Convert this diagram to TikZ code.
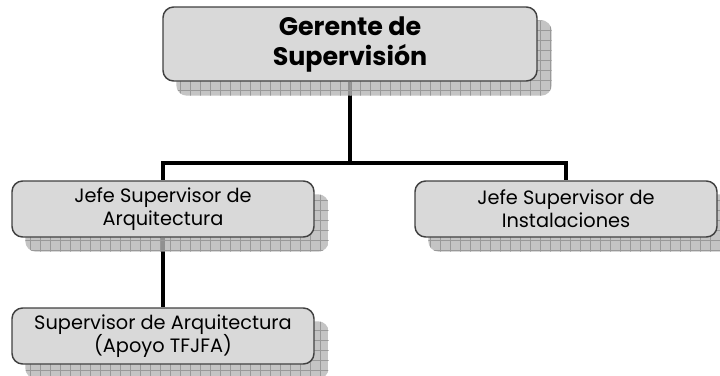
\documentclass[tikz,border=0pt]{standalone}
\usepackage{fontspec}
\setmainfont{Poppins}
\usetikzlibrary{positioning, backgrounds}

\newcommand{\shadowof}[1]{
    \begin{scope}
        \path[clip, rounded corners=8]
            ([shift={(14,14)}]#1.north west) rectangle ([shift={(14,14)}]#1.south east);
        \fill[gray!58, opacity=0.8]
            ([shift={(14,14)}]#1.north west) rectangle ([shift={(14,14)}]#1.south east);
        \draw[gray!80, step=7.5pt, line width=0.4pt]
            ([shift={(10,10)}]#1.north west) grid ([shift={(18,18)}]#1.south east);
    \end{scope}
}
\tikzset{x=0.75pt, y=-0.75pt,
    boss/.style={draw=black!75, line width=1.1pt, fill=gray!30, rounded corners=8,
        minimum width=280.5pt, minimum height=55.5pt, inner sep=0pt, align=center,
        font=\fontsize{19}{22.5}\selectfont\bfseries},
    staff/.style={draw=black!75, line width=1.1pt, fill=gray!30, rounded corners=8,
        minimum width=226.5pt, minimum height=42pt, inner sep=0pt, align=center,
        font=\fontsize{14.5}{17.5}\selectfont},
    conn/.style={line width=3pt}}

\begin{document}
\begin{tikzpicture}
    \useasboundingbox (0,0) rectangle (720,375);
    \node[boss] (ger) at (350,44) {Gerente de\\Supervisión};
    \node[staff] (jarq) at (163,209) {Jefe Supervisor de\\Arquitectura};
    \node[staff] (jins) at (566,209) {Jefe Supervisor de\\Instalaciones};
    \node[staff] (sarq) at (163,336) {Supervisor de Arquitectura\\(Apoyo TFJFA)};
    \coordinate (split) at (350,163);
    % lines and shadows go under the boxes
    \begin{scope}[on background layer]
        \draw[conn] (ger.south) -- (split) -| (jarq.north);
        \draw[conn] (split) -| (jins.north);
        \draw[conn] (jarq.south) -- (sarq.north);
        \foreach \n in {ger,jarq,jins,sarq}
            \shadowof{\n};
    \end{scope}
\end{tikzpicture}
\end{document}
